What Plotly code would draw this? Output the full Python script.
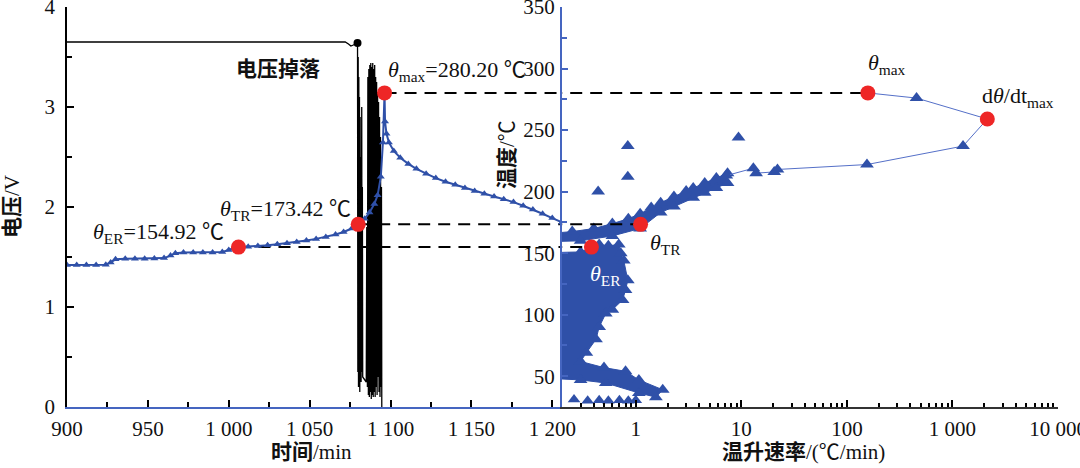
import numpy as np
import plotly.graph_objects as go

# ---------------- DATA ----------------
# Left panel: voltage vs time
volt_time = [900, 1060, 1072, 1074, 1075.5, 1077, 1078.5, 1079.6,
             1079.8, 1080.0, 1080.2, 1080.4, 1080.6, 1080.8, 1081.0, 1081.2, 1081.4, 1081.6, 1081.8, 1082.0,
             1082.2, 1082.4, 1082.6, 1082.8, 1085.0, 1085.3,
             1085.7, 1086.0, 1086.3, 1086.6, 1086.9, 1087.2, 1087.5, 1087.8, 1088.1, 1088.4,
             1088.7, 1089.0, 1089.3, 1089.6, 1089.9, 1090.2, 1090.5, 1090.8, 1091.1, 1091.4,
             1091.7, 1092.0, 1092.3, 1092.6, 1092.9, 1093.2, 1093.5, 1093.8, 1094.1, 1094.4, 1094.6]
volt_value = [3.65, 3.65, 3.65, 3.63, 3.61, 3.62, 3.63, 3.64,
              0.35, 3.50, 0.20, 3.30, 0.45, 3.10, 0.15, 2.90, 0.40, 2.50, 0.25, 1.40,
              3.00, 0.35, 2.20, 0.30, 0.25, 1.80,
              0.20, 3.30, 0.12, 3.38, 0.10, 3.42, 0.15, 3.44, 0.08, 3.40,
              0.12, 3.44, 0.10, 3.38, 0.15, 3.42, 0.10, 3.30, 0.20, 3.25,
              0.12, 3.15, 0.30, 3.05, 0.15, 2.90, 0.10, 2.70, 0.20, 2.20, 0.0]
drop_time = [1079.6]
drop_volt = [3.64]

# Left panel: temperature vs time
temp_time = [900, 906, 912, 918, 924, 927, 930, 936, 942, 948,
             954, 960, 964, 967, 972, 978, 984, 990, 996, 1000,
             1003, 1006, 1012, 1018, 1024, 1030, 1036, 1042, 1048, 1054,
             1060, 1066, 1071, 1076, 1080, 1084, 1087, 1090, 1092, 1094,
             1095.3, 1096.3, 1096.6, 1097.5, 1099, 1102, 1106, 1111, 1116, 1122,
             1128, 1134, 1140, 1146, 1152, 1158, 1164, 1170, 1176, 1182,
             1188, 1194, 1200, 1206]
temp_value = [140.4, 140.4, 140.4, 140.4, 140.6, 142.5, 145, 145.5, 145.5, 145.5,
              145.6, 146, 148, 150, 150.5, 150.5, 150.5, 150.6, 151, 152.5,
              154.2, 154.92, 155.3, 155.8, 156.4, 157.2, 158, 159, 160.2, 161.6,
              163.2, 165.2, 167.2, 170, 173.42, 178, 183, 190, 197, 212,
              240, 280.2, 257, 247, 240, 233, 227.5, 222.5, 218.5, 214.5,
              211, 208, 205.5, 203, 200.5, 198.3, 196, 193.8, 191.5, 188.5,
              185.5, 182, 178.5, 175]

# Key points: ER, TR, max
key_time = [1006, 1080, 1096.3]
key_temp = [154.92, 173.42, 280.20]
key_rate = [0.38, 1.11, 158]

# Right panel: max heating rate point
peak_rate = [2140]
peak_temp = [259]

# Dense band of points (outline)
band_rate = [0.1, 0.15, 0.25, 0.4, 0.6, 0.85, 1.1, 1.4, 1.72, 2.3, 3.0, 3.5, 4.5, 5.8, 7.4,
             7.4, 5.8, 4.5, 3.5, 2.3, 1.72, 1.1, 0.6, 0.3, 0.1]
band_temp = [166, 166, 167.5, 170, 174, 178, 182, 187, 191, 196, 200.5, 203, 207, 211, 215,
             207, 203, 199, 195, 188, 183, 170, 164, 160, 159]

# Dense blob of points at low temperature (outline)
blob_rate = [0.1, 0.3, 0.45, 0.55, 0.69, 0.72, 0.77, 0.84, 0.8, 0.75, 0.6, 0.52, 0.45, 0.42,
             0.34, 0.3, 0.5, 0.8, 1.07, 1.8, 1.55, 1.07, 0.52, 0.3, 0.1]
blob_temp = [150, 151, 157, 156, 157, 150, 144, 128, 120, 112, 104, 101, 90, 80,
             69, 62, 57, 54, 47, 39, 33, 36.4, 44.5, 47, 49]

# Low-rate bottom points
bottom_rate = [0.26, 0.35, 0.45, 0.55, 0.7, 0.85, 1.0]
bottom_temp = [31, 30, 30.5, 30, 30.5, 30, 30.5]

# Isolated scatter points
scatter_rate = [0.44, 0.84, 0.84, 9.4]
scatter_temp = [200, 237, 212, 244]

# High-rate tail (connected by thin line)
tail_rate = [7.2, 13, 13.8, 20.5, 22, 155, 1260, 2140, 457, 158]
tail_temp = [213, 219, 215, 216, 218, 222, 237, 259, 276, 280.2]

# Ticks
time_ticks = [900, 950, 1000, 1050, 1100, 1150, 1200]
time_tick_text = ["900", "950", "1 000", "1 050", "1 100", "1 150", "1 200"]
volt_ticks = [0, 1, 2, 3, 4]
temp_ticks = [50, 100, 150, 200, 250, 300, 350]
rate_ticks = [1, 10, 100, 1000, 10000]
rate_tick_text = ["1", "10", "100", "1 000", "10 000"]

# ---------------- STYLE ----------------
BLUE = "#2f50a8"
AXBLUE = "#4565c0"
RED = "#ee2626"
W, H = 1080, 468
ML, MR, MT, MB = 67, 22, 7, 61
PW, PH = W - ML - MR, H - MT - MB
SPLIT = (562 - ML) / PW
T_RANGE = [25, 350]
X1_RANGE = [900, 1206]
X2_MIN = 0.2
SERIF = "Liberation Serif, Times New Roman, Noto Sans CJK SC, serif"
TICKFONT = dict(family="Liberation Serif, Times New Roman, serif", size=21, color="#111")


def px(x):
    return (x - ML) / PW


def py(y):
    return (MT + PH - y) / PH


fig = go.Figure()
common = dict(showlegend=False, hoverinfo="skip")

# ---- left panel ----
fig.add_trace(go.Scatter(x=volt_time, y=volt_value, mode="lines",
                         line=dict(color="black", width=1.3), xaxis="x", yaxis="y", **common))
fig.add_trace(go.Scatter(x=drop_time, y=drop_volt, mode="markers",
                         marker=dict(color="black", size=8), xaxis="x", yaxis="y", **common))
for t, T in zip(key_time, key_temp):
    fig.add_trace(go.Scatter(x=[t, X1_RANGE[1]], y=[T, T], mode="lines",
                             line=dict(color="black", width=2, dash="12px,8px"),
                             xaxis="x", yaxis="y3", **common))
fig.add_trace(go.Scatter(x=temp_time, y=temp_value, mode="lines+markers",
                         line=dict(color=BLUE, width=2),
                         marker=dict(symbol="triangle-up", size=7, color=BLUE),
                         xaxis="x", yaxis="y3", **common))
fig.add_trace(go.Scatter(x=key_time, y=key_temp, mode="markers",
                         marker=dict(color=RED, size=15), xaxis="x", yaxis="y3", **common))

# ---- right panel ----
for r_, t_ in ((blob_rate, blob_temp), (band_rate, band_temp)):
    fig.add_trace(go.Scatter(x=r_, y=t_, mode="lines", fill="toself", fillcolor=BLUE,
                             line=dict(color=BLUE, width=1), xaxis="x2", yaxis="y2", **common))
    fig.add_trace(go.Scatter(x=r_, y=t_, mode="markers",
                             marker=dict(symbol="triangle-up", size=12, color=BLUE),
                             xaxis="x2", yaxis="y2", **common))
fig.add_trace(go.Scatter(x=bottom_rate, y=bottom_temp, mode="markers",
                         marker=dict(symbol="triangle-up", size=11, color=BLUE),
                         xaxis="x2", yaxis="y2", **common))
fig.add_trace(go.Scatter(x=scatter_rate, y=scatter_temp, mode="markers",
                         marker=dict(symbol="triangle-up", size=12, color=BLUE),
                         xaxis="x2", yaxis="y2", **common))
fig.add_trace(go.Scatter(x=tail_rate, y=tail_temp, mode="lines+markers",
                         line=dict(color="#5570c8", width=1),
                         marker=dict(symbol="triangle-up", size=12, color=BLUE),
                         xaxis="x2", yaxis="y2", **common))
for r, T in zip(key_rate, key_temp):
    fig.add_trace(go.Scatter(x=[0.1, r], y=[T, T], mode="lines",
                             line=dict(color="black", width=2, dash="12px,8px"),
                             xaxis="x2", yaxis="y2", **common))
fig.add_trace(go.Scatter(x=key_rate + peak_rate, y=key_temp + peak_temp, mode="markers",
                         marker=dict(color=RED, size=15), xaxis="x2", yaxis="y2", **common))

# ---- annotations ----
ann = []
LBL = dict(family=SERIF, size=22, color="#111")
ann.append(dict(x=drop_time[0], y=drop_volt[0], xref="x", yref="y", text="<b>电压掉落</b>",
                xanchor="right", yanchor="middle", xshift=-36, yshift=-24, showarrow=False,
                font=dict(family="Noto Sans CJK SC", size=21, color="#111")))
ann.append(dict(x=key_time[2], y=key_temp[2], xref="x", yref="y3",
                text="<i>θ</i><sub>max</sub>=280.20 ℃", xanchor="left", yanchor="middle",
                xshift=1, yshift=22, showarrow=False, font=LBL))
ann.append(dict(x=key_time[1], y=key_temp[1], xref="x", yref="y3",
                text="<i>θ</i><sub>TR</sub>=173.42 ℃", xanchor="right", yanchor="middle",
                xshift=-5, yshift=14, showarrow=False, font=LBL))
ann.append(dict(x=key_time[0], y=key_temp[0], xref="x", yref="y3",
                text="<i>θ</i><sub>ER</sub>=154.92 ℃", xanchor="right", yanchor="middle",
                xshift=-12, yshift=14, showarrow=False, font=LBL))
ann.append(dict(x=np.log10(key_rate[2]), y=key_temp[2], xref="x2", yref="y2",
                text="<i>θ</i><sub>max</sub>", xanchor="left", yanchor="middle",
                xshift=-2, yshift=29, showarrow=False, font=LBL))
ann.append(dict(x=np.log10(peak_rate[0]), y=peak_temp[0], xref="x2", yref="y2",
                text="d<i>θ</i>/dt<sub>max</sub>", xanchor="left", yanchor="middle",
                xshift=-7, yshift=22, showarrow=False, font=LBL))
ann.append(dict(x=np.log10(key_rate[1]), y=key_temp[1], xref="x2", yref="y2",
                text="<i>θ</i><sub>TR</sub>", xanchor="left", yanchor="middle",
                xshift=7, yshift=-20, showarrow=False, font=LBL))
ann.append(dict(x=np.log10(key_rate[0]), y=key_temp[0], xref="x2", yref="y2",
                text="<i>θ</i><sub>ER</sub>", xanchor="left", yanchor="middle",
                xshift=-3, yshift=-28, showarrow=False,
                font=dict(family=SERIF, size=22, color="white")))
# axis titles
TFONT = dict(family=SERIF, size=21, color="#111")
ann.append(dict(x=px(12), y=0.5, xref="paper", yref="paper", text="<b>电压</b>/V",
                textangle=-90, showarrow=False, xanchor="center", yanchor="middle", font=TFONT))
ann.append(dict(x=px(311), y=py(452), xref="paper", yref="paper", text="<b>时间</b>/min",
                showarrow=False, xanchor="center", yanchor="middle", font=TFONT))
ann.append(dict(x=px(803), y=py(452), xref="paper", yref="paper", text="<b>温升速率</b>/(℃/min)",
                showarrow=False, xanchor="center", yanchor="middle", font=TFONT))
ann.append(dict(x=px(507), y=py(155), xref="paper", yref="paper", text="<b>温度</b>/℃",
                textangle=-90, showarrow=False, xanchor="center", yanchor="middle", font=TFONT))

minor_log = [m * 10 ** e for e in range(-1, 4) for m in range(2, 10)]

fig.update_layout(
    width=W, height=H, margin=dict(l=ML, r=MR, t=MT, b=MB, autoexpand=False),
    paper_bgcolor="white", plot_bgcolor="rgba(0,0,0,0)", showlegend=False,
    annotations=ann,
    xaxis=dict(domain=[0, SPLIT], range=X1_RANGE, tickvals=time_ticks, ticktext=time_tick_text,
               ticks="inside", ticklen=7, tickwidth=1.5, tickcolor="black",
               showline=True, linecolor=AXBLUE, linewidth=2,
               minor=dict(tick0=900, dtick=25, ticks="inside", ticklen=5, tickwidth=1.5, tickcolor="black"),
               showgrid=False, zeroline=False, anchor="y", tickfont=TICKFONT, ticklabelstandoff=2,
               ticklabeloverflow="allow", automargin=False),
    yaxis=dict(domain=[0, 1], range=[0, 4], tickvals=volt_ticks, ticks="inside", ticklen=7,
               tickwidth=1.5, tickcolor="black", showline=True, linecolor="black", linewidth=1.5,
               minor=dict(dtick=0.5, ticks="inside", ticklen=5, tickwidth=1.5, tickcolor="black"),
               showgrid=False, zeroline=False, anchor="x", tickfont=TICKFONT, ticklabelstandoff=6,
               ticklabeloverflow="allow", automargin=False),
    yaxis3=dict(overlaying="y", range=T_RANGE, visible=False, anchor="x", automargin=False),
    xaxis2=dict(domain=[SPLIT, 1], type="log", range=[np.log10(X2_MIN), 4],
                tickvals=rate_ticks, ticktext=rate_tick_text, ticks="inside", ticklen=7,
                tickwidth=1.5, tickcolor="black", showline=True, linecolor="#333", linewidth=2,
                minor=dict(tickvals=minor_log, ticks="inside", ticklen=4, tickwidth=1.5, tickcolor="black"),
                showgrid=False, zeroline=False, anchor="y2", tickfont=TICKFONT, ticklabelstandoff=2,
                ticklabeloverflow="allow", automargin=False),
    yaxis2=dict(domain=[0, 1], range=T_RANGE, tickvals=temp_ticks, ticks="inside", ticklen=6,
                tickwidth=1.5, tickcolor=AXBLUE, showline=True, linecolor=AXBLUE, linewidth=2,
                minor=dict(tick0=0, dtick=25, ticks="inside", ticklen=5, tickwidth=1.5, tickcolor=AXBLUE),
                showgrid=False, zeroline=False, anchor="x2", side="left", tickfont=TICKFONT,
                ticklabelstandoff=1, ticklabeloverflow="allow", automargin=False),
)

fig.write_html("out.html")
